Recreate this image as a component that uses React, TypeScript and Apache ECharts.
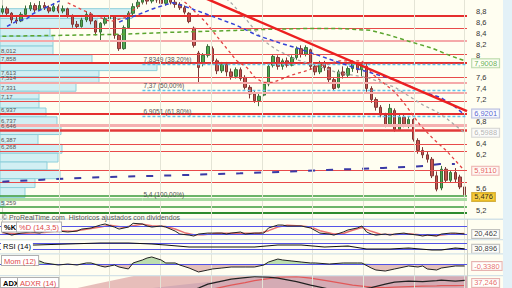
import React, { useEffect, useRef } from "react";
import * as echarts from "echarts";

const FONT = "Liberation Sans, Arial, sans-serif";

// OHLC: [open, close, low, high]
const candles: number[][] = [
  [8.78, 8.84, 8.74, 8.9], [8.84, 8.76, 8.7, 8.88], [8.76, 8.64, 8.58, 8.78], [8.64, 8.62, 8.57, 8.7],
  [8.62, 8.74, 8.6, 8.78], [8.74, 8.84, 8.72, 8.9], [8.84, 8.9, 8.8, 8.96], [8.9, 8.82, 8.78, 8.94],
  [8.82, 8.9, 8.8, 8.98], [8.9, 8.86, 8.82, 8.96], [8.86, 8.8, 8.76, 8.9], [8.8, 8.88, 8.78, 8.94],
  [8.88, 8.8, 8.76, 8.92], [8.8, 8.84, 8.76, 8.9], [8.84, 8.72, 8.68, 8.86], [8.72, 8.56, 8.5, 8.74],
  [8.56, 8.52, 8.48, 8.62], [8.52, 8.64, 8.5, 8.68], [8.64, 8.74, 8.6, 8.8], [8.74, 8.62, 8.56, 8.78],
  [8.62, 8.42, 8.36, 8.64], [8.42, 8.58, 8.27, 8.6], [8.58, 8.66, 8.54, 8.72], [8.66, 8.7, 8.62, 8.76],
  [8.7, 8.36, 8.3, 8.72], [8.36, 8.12, 8.08, 8.38], [8.12, 8.5, 8.1, 8.54], [8.5, 8.76, 8.48, 8.8],
  [8.76, 8.88, 8.72, 8.94], [8.88, 8.96, 8.84, 9.02], [8.96, 9.02, 8.92, 9.08], [9.02, 8.98, 8.92, 9.06],
  [8.98, 9.06, 8.94, 9.12], [9.06, 9.0, 8.95, 9.1], [9.0, 8.94, 8.9, 9.04], [8.94, 9.02, 8.9, 9.06],
  [9.02, 8.96, 8.92, 9.06], [8.96, 8.92, 8.86, 9.0], [8.92, 8.86, 8.82, 8.96], [8.86, 8.78, 8.74, 8.9],
  [8.76, 8.61, 8.58, 8.78], [8.49, 8.18, 8.14, 8.52], [8.04, 7.78, 7.51, 8.08], [7.86, 8.0, 7.8, 8.04],
  [8.0, 8.16, 7.96, 8.2], [8.12, 7.9, 7.86, 8.16], [7.9, 7.72, 7.66, 7.94], [7.72, 7.84, 7.68, 7.88],
  [7.84, 7.7, 7.62, 7.88], [7.7, 7.62, 7.56, 7.76], [7.62, 7.74, 7.58, 7.78], [7.74, 7.58, 7.54, 7.78],
  [7.6, 7.42, 7.38, 7.64], [7.42, 7.3, 7.22, 7.46], [7.3, 7.18, 7.14, 7.36], [7.18, 7.26, 7.08, 7.3],
  [7.28, 7.48, 7.26, 7.52], [7.48, 7.8, 7.44, 7.86], [7.82, 7.98, 7.78, 8.02], [7.96, 7.8, 7.74, 8.0],
  [7.8, 7.9, 7.74, 7.94], [7.9, 7.82, 7.78, 7.96], [7.82, 7.96, 7.8, 8.0], [7.96, 8.12, 7.92, 8.16],
  [8.12, 8.02, 7.96, 8.18], [8.02, 8.14, 7.98, 8.18], [8.1, 7.8, 7.74, 8.12], [7.8, 7.7, 7.64, 7.86],
  [7.7, 7.86, 7.66, 7.9], [7.86, 7.78, 7.72, 7.9], [7.78, 7.56, 7.5, 7.8], [7.56, 7.4, 7.36, 7.6],
  [7.42, 7.7, 7.4, 7.74], [7.7, 7.64, 7.58, 7.8], [7.64, 7.76, 7.6, 7.8], [7.76, 7.84, 7.7, 7.88],
  [7.84, 7.74, 7.68, 7.88], [7.74, 7.84, 7.62, 7.88], [7.8, 7.4, 7.34, 7.84], [7.4, 7.2, 7.14, 7.44],
  [7.2, 7.06, 7.0, 7.24], [7.06, 6.92, 6.88, 7.1], [6.92, 6.74, 6.7, 6.96], [6.76, 7.04, 6.72, 7.12],
  [7.0, 6.66, 6.62, 7.04], [6.66, 6.88, 6.64, 6.94], [6.88, 6.76, 6.7, 6.92], [6.76, 6.84, 6.68, 6.9],
  [6.84, 6.48, 6.44, 6.86], [6.46, 6.28, 6.22, 6.5], [6.28, 6.2, 6.14, 6.34], [6.2, 6.12, 6.06, 6.26],
  [6.12, 5.82, 5.78, 6.16], [5.82, 5.58, 5.54, 5.9], [5.6, 5.94, 5.56, 6.0], [5.94, 5.74, 5.7, 5.98],
  [5.74, 5.88, 5.7, 5.92], [5.88, 5.76, 5.7, 5.96], [5.8, 5.62, 5.58, 5.84], [5.62, 5.476, 5.28, 5.66],
];

// volume profile (price bin edges, top to bottom) and relative volumes
const profileEdges = [8.843, 8.665, 8.487, 8.345, 8.167, 8.007, 7.865, 7.723, 7.616, 7.51, 7.35, 7.207, 7.047,
  6.887, 6.727, 6.567, 6.389, 6.229, 6.07, 5.928, 5.768, 5.608, 5.43, 5.27];
const profileVolume = [132, 97, 50, 53, 53, 92, 157, 99, 99, 76, 39, 39, 46, 57, 61, 38, 62, 58, 47, 60, 35, 25, 4];

// horizontal support / resistance levels
const levelPrices = [8.706, 8.487, 8.262, 8.012, 7.858, 7.613, 7.514, 7.331, 7.17, 6.937, 6.737, 6.646, 6.387, 6.268, 5.922, 5.714];
const levelLabels = ["", "", "", "8,012", "7,858", "7,613", "7,514", "7,331", "7,17", "6,937", "6,737", "6,646", "6,387", "6,268", "", ""];
const greenLevels = [5.46, 5.259, 5.154];
const greenLabels = ["", "5,259", ""];

// Fibonacci retracement
const fibLevels = [7.8349, 7.37, 6.9051, 5.4];
const fibLabels = ["7,8349 (38,20%)", "7,37 (50,00%)", "6,9051 (61,80%)", "5,4 (100,00%)"];
const fibStart = 30;

// trend line [period, price]
const trendLine = [[40, 9.158], [99.5, 6.99]];

// moving averages [period, price]
const maGreen = [[0, 8.345], [12, 8.36], [25, 8.38], [36, 8.415], [50, 8.45], [57, 8.47], [66, 8.485], [72, 8.485], [79, 8.45], [83, 8.36], [87, 8.255], [92, 8.13], [96, 7.99], [99, 7.9008]];
const maBlueEarly = [[1, 8.523], [3, 8.612], [5.3, 8.665], [6.6, 8.754], [8.7, 8.843], [10.2, 8.896], [12.3, 8.985]];
const maBlue = [[25, 8.6], [26.7, 8.665], [28, 8.7], [32.3, 8.843], [34.8, 8.91], [36.5, 8.95], [37.4, 8.932], [41.7, 8.807], [45.1, 8.701], [50.2, 8.541], [54.5, 8.363], [59.5, 8.22], [63.1, 8.131], [68, 7.99], [72.3, 7.865], [76.6, 7.741], [84.5, 7.545], [90.1, 7.332], [93.7, 7.243], [96.5, 7.1], [99, 6.9201]];
const maGrey = [[47, 9.1], [49.2, 8.93], [52.4, 8.63], [55.8, 8.274], [58.8, 8.096], [63.1, 7.918], [67.4, 7.812], [71.7, 7.687], [78.1, 7.598], [84.1, 7.42], [90.1, 7.1], [93.1, 6.976], [95.2, 6.852], [99, 6.5988]];
const maRedEarly = [[14, 8.95], [16.6, 8.843], [19.8, 8.72], [23.1, 8.612], [26.3, 8.683], [28.4, 8.843], [30, 8.95]];
const maRed = [[37, 9.1], [39.5, 8.932], [43.4, 8.612], [46.6, 8.274], [50.2, 7.9], [52.4, 7.776], [54.1, 7.598], [55.8, 7.51], [58, 7.51], [61.6, 7.634], [65.2, 7.723], [68, 7.812], [72.3, 7.9], [75.5, 7.9], [77, 7.9], [79.4, 7.652], [82, 7.474], [84.1, 7.332], [86.2, 7.118], [89.4, 6.745], [92.2, 6.496], [95.2, 6.265], [99, 5.911]];
const maLong = [[0, 5.714], [8.7, 5.75], [17.3, 5.785], [24.6, 5.803], [33.1, 5.821], [40.2, 5.838], [50.9, 5.865], [65.2, 5.91], [69.5, 5.928], [76.6, 5.946], [81.5, 5.963], [86.7, 5.981], [90.1, 5.999], [93.7, 6.035], [96.9, 6.035]];

// indicators [period, value]
const stochK = [[0, 35], [2, 12], [4, 27], [6, 35], [8, 27], [10, 50], [12, 42], [14, 35], [16, 42], [17, 57], [19, 65], [21, 87], [22, 95], [24, 72], [25, 57], [27, 72], [28, 100], [30, 95], [31, 80], [32, 72], [34, 80], [35, 72], [37, 42], [38, 20], [40, 12], [41, 5], [42, 20], [44, 27], [45, 27], [47, 27], [48, 20], [49, 27], [51, 35], [52, 20], [54, 27], [56, 27], [57, 65], [59, 87], [60, 87], [61, 80], [64, 80], [66, 65], [68, 27], [70, 20], [71, 12], [73, 35], [74, 50], [76, 65], [77, 80], [78, 35], [79, 20], [80, 12], [82, 20], [83, 12], [84, 20], [86, 27], [87, 20], [89, 12], [90, 5], [91, 12], [93, 5], [94, 20], [96, 27], [97, 27], [99, 20.462]];
const stochD = [[0, 30], [3, 22], [6, 28], [9, 32], [12, 44], [15, 40], [18, 55], [21, 72], [23, 85], [26, 70], [28, 82], [30, 94], [32, 82], [35, 76], [37, 58], [39, 30], [41, 14], [43, 15], [46, 25], [49, 25], [52, 26], [55, 26], [57, 45], [59, 72], [61, 85], [64, 80], [66, 72], [68, 45], [71, 20], [73, 24], [75, 48], [77, 68], [79, 40], [81, 18], [84, 16], [87, 22], [90, 12], [93, 8], [96, 20], [99, 24]];
const rsi = [[6, 58], [7, 58], [14, 65], [21, 72], [27, 72], [32, 65], [35, 58], [40, 44], [42, 44], [45, 44], [49, 44], [54, 44], [59, 58], [64, 58], [69, 44], [74, 51], [78, 30], [83, 30], [87, 37], [92, 23], [94, 23], [97, 37], [99, 30.896]];
const mom = [[0, 0.67], [2, 0], [5, 0.17], [7, 0.33], [8, 0.5], [9, 0.17], [12, -0.17], [14, 0], [16, -0.17], [18, 0.17], [19, 0.17], [21, -0.33], [22, -0.5], [24, -0.17], [25, -0.5], [27, -0.83], [28, 0.17], [30, 0.67], [31, 1.0], [32, 1.17], [34, 0.67], [35, 0.17], [37, 0.17], [38, -0.17], [40, -0.67], [42, -1.33], [44, -1.0], [45, -0.83], [47, -0.67], [49, -0.5], [52, -0.5], [54, -0.5], [56, -0.17], [57, 0.33], [59, 0.83], [60, 0.67], [62, 0.5], [64, 0.33], [66, 0.17], [67, 0.17], [70, 0], [73, 0.17], [76, 0.17], [77, 0.17], [79, -0.67], [80, -1.0], [82, -1.17], [84, -0.83], [86, -0.5], [87, -0.33], [89, -0.5], [90, -0.33], [91, -0.83], [93, -1.0], [94, -0.67], [97, -0.33], [99, -0.338]];
const adxPeriods = [0, 2, 4, 6, 10, 20, 30, 38, 42, 44, 47, 49, 52, 54, 57, 59, 63, 66, 70, 75, 79, 82, 84, 87, 90, 93, 94, 97, 99];
const adx = [35, 36, 33, 30, 26, 22, 20, 22, 32, 40, 46, 50, 53, 55, 54, 52, 45, 38, 30, 27, 33, 40, 44, 46, 45, 47, 48, 46, 47.5];
const adxr = [37, 37, 36, 34, 30, 26, 23, 22, 24, 28, 34, 38, 43, 47, 51, 54, 55, 52, 46, 38, 34, 33, 34, 35, 36, 36.5, 37, 37, 37.246];

// time grid (period positions of the vertical grid lines)
const gridPeriods = [12.1, 22.9, 33.8, 44.7, 55.6, 66.4, 77.3, 88.1, 99];

const fmt = (v: number, d: number) => v.toFixed(d).replace(".", ",");
const last = (a: number[][]) => a[a.length - 1];

function endBox(xi: number, yi: number, point: number[], text: string, color: string, bg: string, border: string, dy = 0) {
  return {
    type: "scatter", xAxisIndex: xi, yAxisIndex: yi, data: [point], symbolSize: 1, silent: true, z: 30,
    itemStyle: { color: "rgba(0,0,0,0)" },
    label: {
      show: true, position: "right", distance: 7, formatter: text, color, backgroundColor: bg,
      borderColor: border, borderWidth: 1, padding: [0, 2, 0, 2], fontSize: 7.5, lineHeight: 8, fontFamily: FONT,
      offset: [0, dy],
    },
  };
}

function dashed(xi: number, data: number[][], color: string, width: number, type: any, z = 5) {
  return {
    type: "line", xAxisIndex: xi, yAxisIndex: 0, data, symbol: "none", silent: true, z,
    lineStyle: { color, width, type },
  };
}

const vGrid = (color = "#E4E4D6") => gridPeriods.map((v) => ({ xAxis: v, lineStyle: { color, width: 1, type: "solid" } }));

function panelText(left: number, top: number, text: string, fill: string, boxed = true, bold = false) {
  return {
    type: "text", left, top, z: 60,
    style: {
      text, fill, fontSize: 7.5, fontFamily: FONT, fontWeight: bold ? "bold" : "normal",
      backgroundColor: "#FFFFFF", borderColor: boxed ? "#B0B0B0" : "transparent", borderWidth: boxed ? 1 : 0,
      padding: [1, 2, 0, 2],
    },
  };
}

const lineLabel = (text: string) => ({
  show: !!text, formatter: text, position: "insideStartTop", distance: 1, color: "#555",
  fontSize: 6, lineHeight: 6, fontFamily: FONT,
});

function buildOption(): any {
  const strong = { color: "#E52E2E", width: 2 };
  const normal = { color: "#E84A4A", width: 1.2 };
  const light = { color: "#F5A9A9", width: 2 };
  const kinds = [strong, normal, light, normal, strong, normal, light, light, normal, strong, { color: "#F5B0B0", width: 3 }, { color: "#E23A3A", width: 2.5 }, normal, normal, normal, normal];

  const boxValues = [last(maGreen)[1], last(maBlue)[1], last(maGrey)[1], last(maRed)[1], candles[candles.length - 1][1]];
  const coveredTick = (v: number) => boxValues.some((b) => (b - v >= -1e-9 && b - v < 0.115) || (v - b >= 0 && v - b < 0.09));

  const levelLines: any[] = levelPrices.map((p, k) => ({
    yAxis: p,
    lineStyle: { ...kinds[k], type: "solid" },
    label: lineLabel(levelLabels[k]),
  }));
  greenLevels.forEach((p, k) => levelLines.push({
    yAxis: p,
    lineStyle: { color: k === 2 ? "#2E8B2E" : "#3B9B3B", width: k === 2 ? 2 : 1.5, type: "solid" },
    label: lineLabel(greenLabels[k]),
  }));

  const fibLines: any[] = fibLevels.map((p, k) => [
    {
      coord: [fibStart, p],
      lineStyle: k === 3 ? { color: "#A8DBA2", width: 3, type: "solid" } : { color: "#5CC4EE", width: 1.3, type: [3, 2] },
      label: { ...lineLabel(fibLabels[k]), fontSize: 6.5, lineHeight: 7 },
    },
    { coord: [99.5, p] },
  ]);
  fibLines.push([{ coord: [-0.5, fibLevels[3]], lineStyle: { color: "#A8DBA2", width: 3, type: "solid" }, label: { show: false } }, { coord: [fibStart, fibLevels[3]] }]);

  const momPos = mom.map(([x, v]) => [x, v > 0 ? v : 0]);
  const momNeg = mom.map(([x, v]) => [x, v < 0 ? v : 0]);
  const adxLow = adxPeriods.map((x, k) => [x, Math.min(adx[k], adxr[k])]);
  const adxUp = adxPeriods.map((x, k) => [x, Math.max(adx[k] - adxr[k], 0)]);
  const adxDown = adxPeriods.map((x, k) => [x, Math.max(adxr[k] - adx[k], 0)]);

  const hiddenY = (g: number, min: number, max: number) => ({ type: "value", gridIndex: g, min, max, show: false });
  const hiddenX = (g: number) => ({ type: "value", gridIndex: g, min: -0.5, max: 99.5, show: false });

  return {
    animation: false,
    backgroundColor: "#FFFEF1",
    textStyle: { fontFamily: FONT },
    grid: [
      { left: 0, right: 45, top: -3.85, height: 225.05 },
      { left: 0, right: 45, top: 220, height: 19 },
      { left: 0, right: 45, top: 240, height: 13 },
      { left: 0, right: 45, top: 254, height: 21 },
      { left: 0, right: 45, top: 276, height: 12 },
    ],
    xAxis: [
      { type: "category", gridIndex: 0, data: candles.map((_, i) => String(i)), show: false, boundaryGap: true },
      hiddenX(0),
      { type: "value", gridIndex: 0, min: 0, max: 467, show: false },
      hiddenX(1), hiddenX(2), hiddenX(3), hiddenX(4),
    ],
    yAxis: [
      {
        type: "value", gridIndex: 0, position: "right", min: 5, max: 9, interval: 0.2,
        axisLine: { show: true, lineStyle: { color: "#CFCFC4" } }, axisTick: { show: false }, splitLine: { show: false },
        axisLabel: {
          margin: 9, fontSize: 7.5, lineHeight: 7, color: "#333", fontFamily: FONT,
          formatter: (v: number) => (v < 5.1 || v > 8.85 || coveredTick(v) ? "" : String(Math.round(v * 10) / 10).replace(".", ",")),
        },
      },
      hiddenY(1, -17.25, 124.75),
      hiddenY(2, 1.9, 93.2),
      hiddenY(3, -1.833, 1.667),
      hiddenY(4, 32.2, 56.2),
    ],
    graphic: [
      { type: "rect", shape: { x: 503, y: 0, width: 9, height: 288 }, style: { fill: "#E3F1F7" }, z: 0 },
      { type: "rect", shape: { x: 0, y: 218.5, width: 503, height: 1.5 }, style: { fill: "#D3E2E8" }, z: 55 },
      { type: "rect", shape: { x: 0, y: 239, width: 503, height: 1.2 }, style: { fill: "#D3E2E8" }, z: 55 },
      { type: "rect", shape: { x: 0, y: 253.2, width: 503, height: 1.2 }, style: { fill: "#D3E2E8" }, z: 55 },
      { type: "rect", shape: { x: 0, y: 275, width: 503, height: 1.2 }, style: { fill: "#D3E2E8" }, z: 55 },
      { type: "line", shape: { x1: 467.5, y1: 219, x2: 467.5, y2: 288 }, style: { stroke: "#CFCFC4", lineWidth: 1 }, z: 55 },
      { type: "text", left: 2, top: 213.5, z: 60, style: { text: "© ProRealTime.com  Historicos ajustados con dividendos", fill: "#555", fontSize: 7, fontFamily: FONT } },
      panelText(1, 221.5, "%K", "#000", true, true),
      panelText(16, 221.5, "%D (14,3,5)", "#E04848"),
      panelText(1, 241, "RSI (14)", "#000", false),
      panelText(1, 255, "Mom (12)", "#E04848"),
      panelText(0, 277, "ADX", "#000", true, true),
      panelText(17, 277, "ADXR (14)", "#E04848"),
    ],
    series: [
      {
        type: "custom", xAxisIndex: 2, yAxisIndex: 0, z: 1, silent: true,
        data: profileVolume.map((v, k) => [v, profileEdges[k + 1], profileEdges[k]]),
        encode: { x: 0, y: [1, 2] },
        renderItem: (params: any, api: any) => {
          const a = api.coord([0, api.value(2)]);
          const b = api.coord([api.value(0), api.value(1)]);
          return {
            type: "rect",
            shape: { x: a[0], y: a[1], width: b[0] - a[0], height: b[1] - a[1] },
            style: { fill: "#D2EFF3", stroke: "#8ECFDA", lineWidth: 1 },
          };
        },
      },
      {
        type: "candlestick", xAxisIndex: 0, yAxisIndex: 0, data: candles, barWidth: 3, z: 3, silent: true,
        itemStyle: { color: "#4FA94F", color0: "#C4524E", borderColor: "#3A6E3A", borderColor0: "#7E3835", borderWidth: 1 },
        markLine: { silent: true, symbol: ["none", "none"], label: { show: false }, data: levelLines, z: 4 },
      },
      dashed(1, maLong, "#3A3AA6", 2, [7, 11], 4),
      dashed(1, maGreen, "#5BA52F", 1.5, [4, 3]),
      dashed(1, maGrey, "#A8A8A8", 1.3, [3, 3]),
      dashed(1, maRedEarly, "#E24444", 1.3, [3, 3]),
      dashed(1, maRed, "#E24444", 1.3, [3, 3]),
      dashed(1, maBlueEarly, "#3543D6", 1.5, [4, 3]),
      dashed(1, maBlue, "#3543D6", 1.5, [4, 3]),
      {
        type: "line", xAxisIndex: 1, yAxisIndex: 0, data: trendLine, symbol: "none", silent: true, z: 6,
        lineStyle: { color: "#EC2020", width: 2.5 },
        markLine: {
          silent: true, symbol: ["none", "none"], label: { show: false },
          data: [...vGrid(), ...fibLines],
        },
      },
      endBox(1, 0, last(maGreen), fmt(last(maGreen)[1], 4), "#3E9A2A", "#FFFFF6", "#A9CF98", 2.5),
      endBox(1, 0, last(maBlue), fmt(last(maBlue)[1], 4), "#2B3AC9", "#FAFBFF", "#A3AADB", -1.5),
      endBox(1, 0, last(maGrey), fmt(last(maGrey)[1], 4), "#A2A2A2", "#FCFCFC", "#CACACA"),
      endBox(1, 0, last(maRed), fmt(last(maRed)[1], 4), "#E03434", "#FFFBF7", "#E8A3A3"),
      endBox(1, 0, [99, candles[candles.length - 1][1]], fmt(candles[candles.length - 1][1], 3), "#000", "#F4C21C", "#C89B14", 2),

      // Stochastic
      {
        type: "line", xAxisIndex: 3, yAxisIndex: 1, data: stochD, symbol: "none", silent: true, z: 4,
        lineStyle: { color: "#E77070", width: 1.5 },
        markLine: {
          silent: true, symbol: ["none", "none"], label: { show: false },
          data: [...vGrid(), { yAxis: 80, lineStyle: { color: "#5353E6", width: 1, type: "solid" } }, { yAxis: 20, lineStyle: { color: "#5353E6", width: 1, type: "solid" } }],
        },
      },
      { type: "line", xAxisIndex: 3, yAxisIndex: 1, data: stochK, symbol: "none", silent: true, z: 5, lineStyle: { color: "#222", width: 1 } },
      endBox(3, 1, last(stochK), fmt(last(stochK)[1], 3), "#000", "#FFFFFF", "#B0B0B0"),

      // RSI
      {
        type: "line", xAxisIndex: 4, yAxisIndex: 2, data: rsi, symbol: "none", silent: true, z: 5,
        lineStyle: { color: "#111", width: 1.2 },
        markLine: {
          silent: true, symbol: ["none", "none"], label: { show: false },
          data: [...vGrid(), { yAxis: 70, lineStyle: { color: "#5353E6", width: 1, type: "solid" } }, { yAxis: 30, lineStyle: { color: "#5353E6", width: 1, type: "solid" } }],
        },
      },
      endBox(4, 2, last(rsi), fmt(last(rsi)[1], 3), "#000", "#FFFFFF", "#B0B0B0"),

      // Momentum
      { type: "line", xAxisIndex: 5, yAxisIndex: 3, data: momPos, symbol: "none", silent: true, z: 3, lineStyle: { width: 0 }, areaStyle: { color: "#9FCF92" } },
      { type: "line", xAxisIndex: 5, yAxisIndex: 3, data: momNeg, symbol: "none", silent: true, z: 3, lineStyle: { width: 0 }, areaStyle: { color: "#D9A4A1" } },
      {
        type: "line", xAxisIndex: 5, yAxisIndex: 3, data: mom, symbol: "none", silent: true, z: 5,
        lineStyle: { color: "#222", width: 1 },
        markLine: {
          silent: true, symbol: ["none", "none"], label: { show: false },
          data: [...vGrid(), { yAxis: 0, lineStyle: { color: "#5353E6", width: 1, type: "solid" } }],
        },
      },
      endBox(5, 3, last(mom), fmt(last(mom)[1], 4), "#E04848", "#FFFFFF", "#E0A0A0"),

      // ADX / ADXR
      {
        type: "line", xAxisIndex: 6, yAxisIndex: 4, data: adxLow, stack: "adx", symbol: "none", silent: true, z: 2,
        lineStyle: { width: 0 },
        markLine: { silent: true, symbol: ["none", "none"], label: { show: false }, data: vGrid() },
      },
      { type: "line", xAxisIndex: 6, yAxisIndex: 4, data: adxUp, stack: "adx", symbol: "none", silent: true, z: 2, lineStyle: { width: 0 }, areaStyle: { color: "#A3A3D3" } },
      { type: "line", xAxisIndex: 6, yAxisIndex: 4, data: adxDown, stack: "adx", symbol: "none", silent: true, z: 2, lineStyle: { width: 0 }, areaStyle: { color: "#DDA3A3" } },
      { type: "line", xAxisIndex: 6, yAxisIndex: 4, data: adxPeriods.map((x, k) => [x, adxr[k]]), symbol: "none", silent: true, z: 4, lineStyle: { color: "#E25858", width: 1.2 } },
      { type: "line", xAxisIndex: 6, yAxisIndex: 4, data: adxPeriods.map((x, k) => [x, adx[k]]), symbol: "none", silent: true, z: 5, lineStyle: { color: "#222", width: 1.2 } },
      endBox(6, 4, [99, adxr[adxr.length - 1]], fmt(adxr[adxr.length - 1], 3), "#E04848", "#FFFFFF", "#E0A0A0", -2.5),
    ],
  };
}

export default function App() {
  const ref = useRef<HTMLDivElement>(null);
  useEffect(() => {
    const chart = echarts.init(ref.current as HTMLDivElement, null, { renderer: "svg" });
    chart.setOption(buildOption());
    return () => chart.dispose();
  }, []);
  return <div ref={ref} style={{ position: "fixed", left: 0, top: 0, width: 512, height: 288 }} />;
}
